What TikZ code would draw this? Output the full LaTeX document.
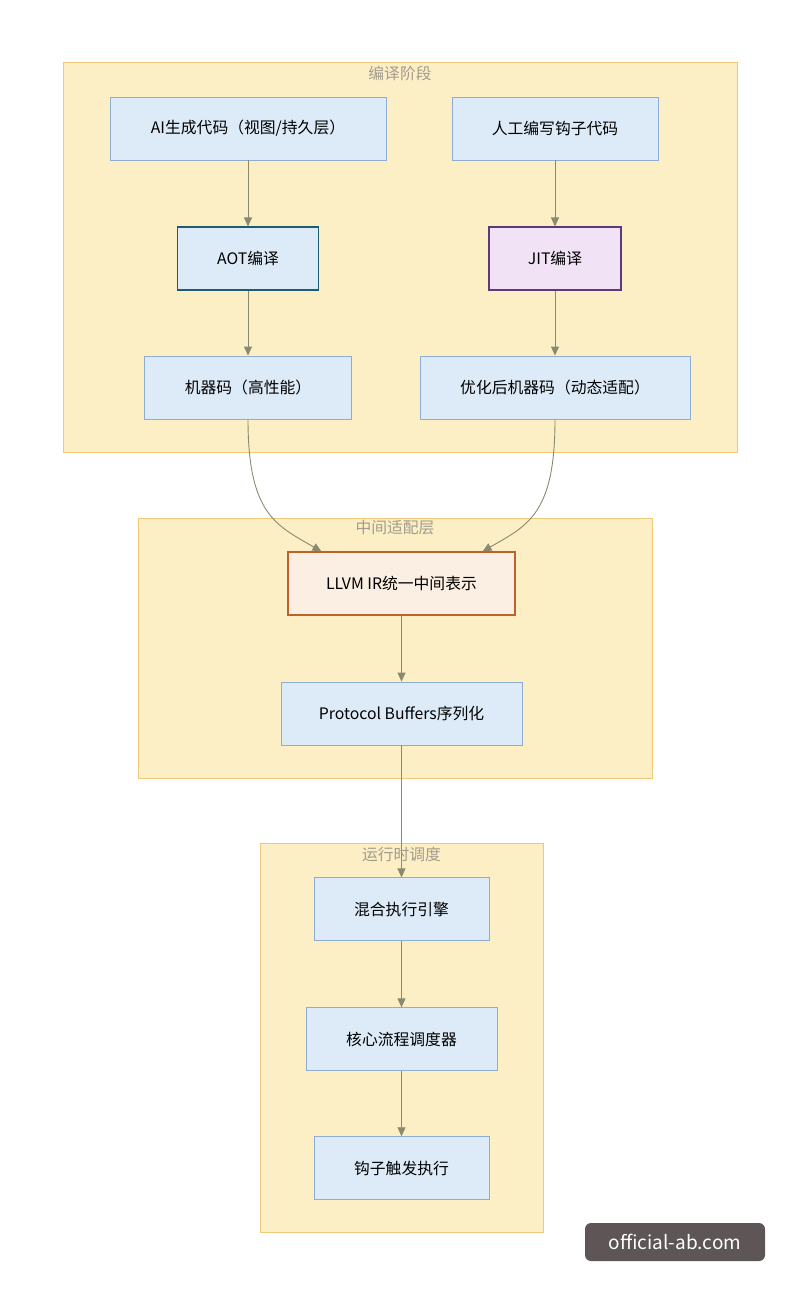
\documentclass[tikz,border=0pt]{standalone}
\usepackage{fontspec}
\setmainfont{Noto Sans CJK SC}
\usepackage{xcolor}
\usetikzlibrary{arrows.meta,positioning,backgrounds}
\definecolor{zoneFill}{HTML}{FCEFC5}
\definecolor{zoneLine}{HTML}{EFC878}
\definecolor{zoneText}{HTML}{A39C8E}
\definecolor{stepFill}{HTML}{DDEBF8}
\definecolor{stepLine}{HTML}{8EADD2}
\definecolor{aotLine}{HTML}{1F5C70}
\definecolor{jitFill}{HTML}{F1E3F5}
\definecolor{jitLine}{HTML}{5A3A78}
\definecolor{irFill}{HTML}{FBEEE2}
\definecolor{irLine}{HTML}{C0602A}
\definecolor{flow}{HTML}{8A8A70}
\definecolor{markFill}{HTML}{5E5656}

\begin{document}
\begin{tikzpicture}[
  x=1pt, y=1pt,
  node distance=65pt and 65pt,
  every node/.style={font=\fontsize{15.8}{18}\selectfont},
  zone/.style={rectangle, draw=zoneLine, fill=zoneFill, line width=1pt},
  zonetitle/.style={text=zoneText, anchor=north, inner sep=0pt},
  stepbox/.style={rectangle, draw=stepLine, fill=stepFill, line width=0.9pt,
                  minimum height=63pt, inner sep=4pt},
  arr/.style={-{Triangle[length=9pt,width=8pt]}, flow, line width=0.9pt}
]
\useasboundingbox (0,0) rectangle (800,-1297);

% ---- Phase 1: compile ----
\node[stepbox, minimum width=276pt] (gen) at (248,-128.5) {AI生成代码（视图/持久层）};
\node[stepbox, minimum width=206pt] (hook) at (555,-128.5) {人工编写钩子代码};
\node[stepbox, minimum width=141pt, draw=aotLine, line width=1.1pt, below=66pt of gen] (aot) {AOT编译};
\node[stepbox, minimum width=132pt, fill=jitFill, draw=jitLine, line width=1.1pt, below=66pt of hook] (jit) {JIT编译};
\node[stepbox, minimum width=207pt, below=65pt of aot] (mcode) {机器码（高性能）};
\node[stepbox, minimum width=270pt, below=65pt of jit] (optcode) {优化后机器码（动态适配）};
\draw[arr] (gen) -- (aot);
\draw[arr] (hook) -- (jit);
\draw[arr] (aot) -- (mcode);
\draw[arr] (jit) -- (optcode);

% ---- Phase 2: adapter layer ----
\node[stepbox, minimum width=227pt, fill=irFill, draw=irLine, line width=1.1pt] (llvm) at (401.5,-583.5) {LLVM IR统一中间表示};
\node[stepbox, minimum width=241pt, below=66pt of llvm] (proto) {Protocol Buffers序列化};
\draw[arr] (llvm) -- (proto);
\draw[arr] (mcode.south) .. controls +(0,-95) and +(-45,26) .. ([xshift=34pt]llvm.north west);
\draw[arr] (optcode.south) .. controls +(0,-95) and +(45,26) .. ([xshift=-33pt]llvm.north east);

% ---- Phase 3: runtime ----
\node[stepbox, minimum width=175pt, below=132pt of proto] (engine) {混合执行引擎};
\node[stepbox, minimum width=191pt, below=66pt of engine] (sched) {核心流程调度器};
\node[stepbox, minimum width=175pt, below=65pt of sched] (fire) {钩子触发执行};
\draw[arr] (proto) -- (engine);
\draw[arr] (engine) -- (sched);
\draw[arr] (sched) -- (fire);

% ---- Background zones ----
\begin{pgfonlayer}{background}
\node[zone, minimum width=674pt, minimum height=389pt] (zoneA) at (400,-257.5) {};
\node[zone, minimum width=514pt, minimum height=260pt] (zoneB) at (395,-648) {};
\node[zone, minimum width=283pt, minimum height=389pt] (zoneC) at (401.5,-1037.5) {};
\end{pgfonlayer}

\node[zonetitle] at ([yshift=-3pt]zoneA.north) {编译阶段};
\node[zonetitle] at ([yshift=-3pt]zoneB.north) {中间适配层};
\node[zonetitle] at ([yshift=-4pt]zoneC.north) {运行时调度};

% ---- Watermark ----
\node[fill=markFill, text=white, rounded corners=6pt, minimum width=180pt, minimum height=38pt,
      font=\fontsize{19}{22}\selectfont] (mark) at (675,-1242) {official-ab.com};

\end{tikzpicture}
\end{document}
